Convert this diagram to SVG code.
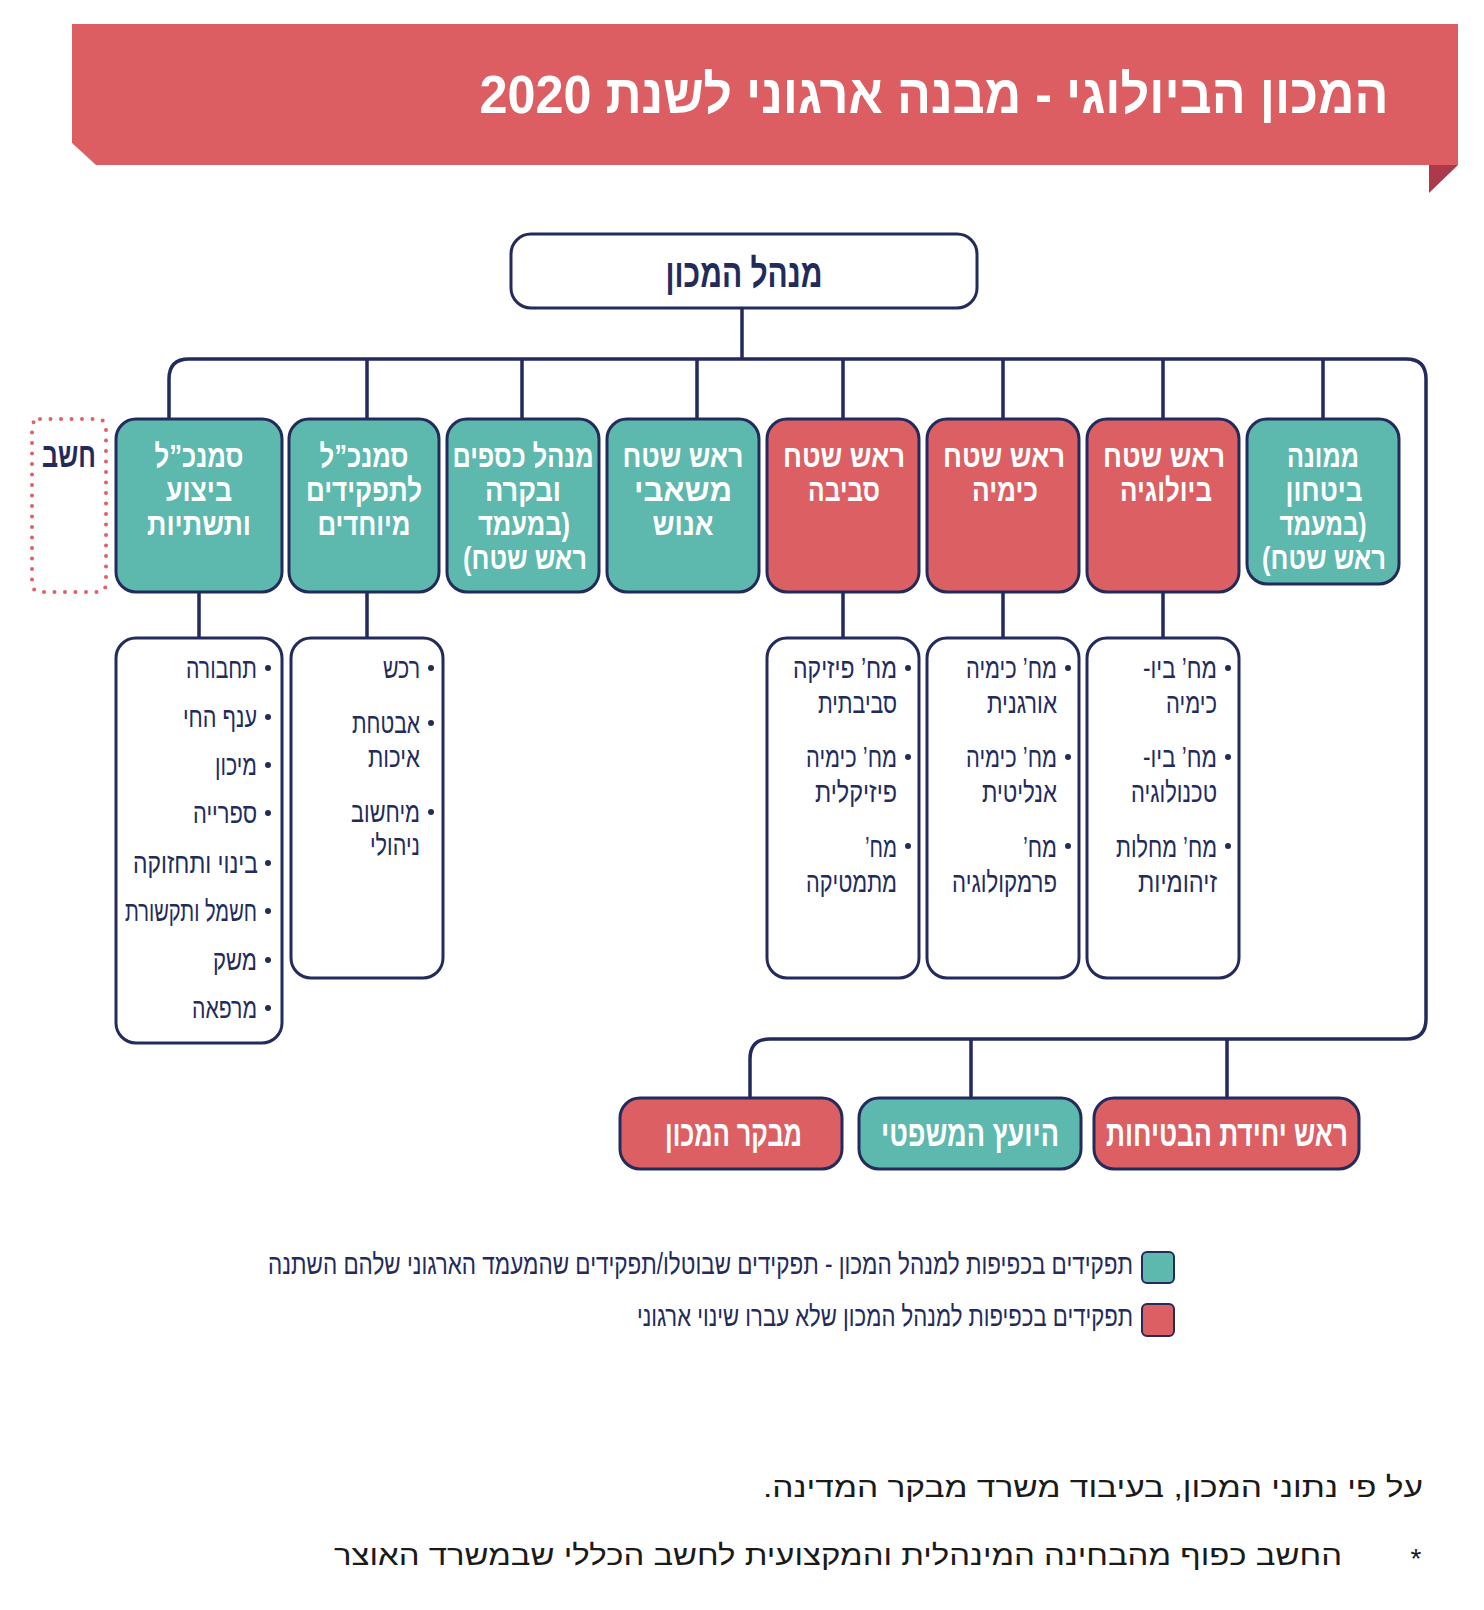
<svg xmlns="http://www.w3.org/2000/svg" width="1484" height="1610" viewBox="0 0 1484 1610">
<style>
.red{fill:#DC5F64;stroke:#232B5C;stroke-width:3}
.teal{fill:#5DB8AD;stroke:#232B5C;stroke-width:3}
.wbox{fill:#fff;stroke:#232B5C;stroke-width:3}
.conn{fill:none;stroke:#232B5C;stroke-width:3.5}
text{font-family:"Liberation Sans","DejaVu Sans",sans-serif;direction:rtl;text-anchor:middle}
.bt{font-weight:bold;font-size:32px;fill:#fff}
.bb{font-weight:bold;font-size:36px;fill:#fff}
.nt{font-weight:bold;fill:#232B5C}
.lt{font-size:29px;fill:#232B5C}
.gt{font-size:29px;fill:#232B5C}
.ft{font-size:28px;fill:#1a1a1a}
.bul{fill:#232B5C}
</style>
<rect width="1484" height="1610" fill="#fff"/>
<g id="title">
<polygon points="72,24 1458,24 1458,165 96,165 72,143" fill="#DC5E63"/>
<polygon points="1429,165 1458,165 1429,193" fill="#AD3A4A"/>
<text x="934" y="113" font-size="54" font-weight="bold" fill="#fff" textLength="909" lengthAdjust="spacingAndGlyphs">המכון הביולוגי - מבנה ארגוני לשנת 2020</text>
</g>
<g id="connectors">
<path class="conn" d="M169,419 V379 Q169,359 189,359 H1406 Q1426,359 1426,379 V1019 Q1426,1039 1406,1039 H770 Q750,1039 750,1059 V1098"/>
<path class="conn" d="M742,308 V359 M367,359 V419 M522,359 V419 M697,359 V419 M843,359 V419 M1003,359 V419 M1163,359 V419 M1323,359 V419"/>
<path class="conn" d="M199,592 V638 M367,592 V638 M843,592 V638 M1003,592 V638 M1163,592 V638"/>
<path class="conn" d="M971,1039 V1098 M1227,1039 V1098"/>
</g>
<g id="director">
<rect class="wbox" x="511" y="234" width="466" height="74" rx="20"/>
<text class="nt" x="744" y="287" font-size="40" textLength="157" lengthAdjust="spacingAndGlyphs">מנהל המכון</text>
</g>
<g id="accountant">
<rect x="32" y="419" width="74" height="173" rx="8" fill="none" stroke="#E06065" stroke-width="4" stroke-linecap="round" stroke-dasharray="0 10.5"/>
<text class="nt" x="69" y="467" font-size="34" textLength="54" lengthAdjust="spacingAndGlyphs">חשב</text>
</g>
<g id="box-execution">
<rect class="teal" x="116" y="419" width="166" height="173" rx="20"/>
<text class="bt" x="199" y="467" textLength="89" lengthAdjust="spacingAndGlyphs">סמנכ”ל</text>
<text class="bt" x="199" y="501" textLength="66" lengthAdjust="spacingAndGlyphs">ביצוע</text>
<text class="bt" x="199" y="535" textLength="104" lengthAdjust="spacingAndGlyphs">ותשתיות</text>
</g>
<g id="box-special">
<rect class="teal" x="289" y="419" width="150" height="173" rx="20"/>
<text class="bt" x="364" y="467" textLength="89" lengthAdjust="spacingAndGlyphs">סמנכ”ל</text>
<text class="bt" x="364" y="501" textLength="116" lengthAdjust="spacingAndGlyphs">לתפקידים</text>
<text class="bt" x="364" y="535" textLength="93" lengthAdjust="spacingAndGlyphs">מיוחדים</text>
</g>
<g id="box-finance">
<rect class="teal" x="447" y="419" width="152" height="173" rx="20"/>
<text class="bt" x="523" y="467" textLength="141" lengthAdjust="spacingAndGlyphs">מנהל כספים</text>
<text class="bt" x="523" y="501" textLength="76" lengthAdjust="spacingAndGlyphs">ובקרה</text>
<text class="bt" x="524" y="535" textLength="92" lengthAdjust="spacingAndGlyphs">(במעמד</text>
<text class="bt" x="525" y="569" textLength="124" lengthAdjust="spacingAndGlyphs">ראש שטח)</text>
</g>
<g id="box-hr">
<rect class="teal" x="607" y="419" width="152" height="173" rx="20"/>
<text class="bt" x="683" y="467" textLength="121" lengthAdjust="spacingAndGlyphs">ראש שטח</text>
<text class="bt" x="683" y="501" textLength="98" lengthAdjust="spacingAndGlyphs">משאבי</text>
<text class="bt" x="683" y="535" textLength="61" lengthAdjust="spacingAndGlyphs">אנוש</text>
</g>
<g id="box-environment">
<rect class="red" x="767" y="419" width="152" height="173" rx="20"/>
<text class="bt" x="844" y="467" textLength="122" lengthAdjust="spacingAndGlyphs">ראש שטח</text>
<text class="bt" x="844" y="501" textLength="72" lengthAdjust="spacingAndGlyphs">סביבה</text>
</g>
<g id="box-chemistry">
<rect class="red" x="927" y="419" width="152" height="173" rx="20"/>
<text class="bt" x="1004" y="467" textLength="122" lengthAdjust="spacingAndGlyphs">ראש שטח</text>
<text class="bt" x="1005" y="501" textLength="66" lengthAdjust="spacingAndGlyphs">כימיה</text>
</g>
<g id="box-biology">
<rect class="red" x="1087" y="419" width="152" height="173" rx="20"/>
<text class="bt" x="1164" y="467" textLength="122" lengthAdjust="spacingAndGlyphs">ראש שטח</text>
<text class="bt" x="1166" y="501" textLength="92" lengthAdjust="spacingAndGlyphs">ביולוגיה</text>
</g>
<g id="box-security">
<rect class="teal" x="1247" y="419" width="152" height="165" rx="20"/>
<text class="bt" x="1323" y="467" textLength="72" lengthAdjust="spacingAndGlyphs">ממונה</text>
<text class="bt" x="1324" y="501" textLength="77" lengthAdjust="spacingAndGlyphs">ביטחון</text>
<text class="bt" x="1323" y="535" textLength="87" lengthAdjust="spacingAndGlyphs">(במעמד</text>
<text class="bt" x="1324" y="569" textLength="124" lengthAdjust="spacingAndGlyphs">ראש שטח)</text>
</g>
<g id="list-execution">
<rect class="wbox" x="116" y="638" width="166" height="405" rx="20"/>
<circle class="bul" cx="268" cy="668" r="3"/><circle class="bul" cx="268" cy="717" r="3"/><circle class="bul" cx="268" cy="765" r="3"/><circle class="bul" cx="268" cy="813" r="3"/><circle class="bul" cx="268" cy="863" r="3"/><circle class="bul" cx="268" cy="911" r="3"/><circle class="bul" cx="268" cy="960" r="3"/><circle class="bul" cx="268" cy="1008" r="3"/>
<text class="lt" x="221.5" y="678" textLength="71" lengthAdjust="spacingAndGlyphs">תחבורה</text>
<text class="lt" x="220" y="727" textLength="74" lengthAdjust="spacingAndGlyphs">ענף החי</text>
<text class="lt" x="236" y="775" textLength="42" lengthAdjust="spacingAndGlyphs">מיכון</text>
<text class="lt" x="225" y="823" textLength="64" lengthAdjust="spacingAndGlyphs">ספרייה</text>
<text class="lt" x="195.5" y="873" textLength="125" lengthAdjust="spacingAndGlyphs">בינוי ותחזוקה</text>
<text class="lt" x="191" y="921" textLength="132" lengthAdjust="spacingAndGlyphs">חשמל ותקשורת</text>
<text class="lt" x="235" y="970" textLength="44" lengthAdjust="spacingAndGlyphs">משק</text>
<text class="lt" x="224.5" y="1018" textLength="65" lengthAdjust="spacingAndGlyphs">מרפאה</text>
</g>
<g id="list-special">
<rect class="wbox" x="291" y="638" width="152" height="340" rx="20"/>
<circle class="bul" cx="431" cy="668" r="3"/><circle class="bul" cx="431" cy="723" r="3"/><circle class="bul" cx="431" cy="812" r="3"/>
<text class="lt" x="401.5" y="678" textLength="37" lengthAdjust="spacingAndGlyphs">רכש</text>
<text class="lt" x="386" y="733" textLength="68" lengthAdjust="spacingAndGlyphs">אבטחת</text>
<text class="lt" x="394" y="767" textLength="52" lengthAdjust="spacingAndGlyphs">איכות</text>
<text class="lt" x="385.5" y="822" textLength="69" lengthAdjust="spacingAndGlyphs">מיחשוב</text>
<text class="lt" x="395" y="855" textLength="50" lengthAdjust="spacingAndGlyphs">ניהולי</text>
</g>
<g id="list-environment">
<rect class="wbox" x="767" y="638" width="152" height="340" rx="20"/>
<circle class="bul" cx="908" cy="668" r="3"/><circle class="bul" cx="908" cy="757" r="3"/><circle class="bul" cx="908" cy="846" r="3"/>
<text class="lt" x="845" y="678" textLength="104" lengthAdjust="spacingAndGlyphs">מח’ פיזיקה</text>
<text class="lt" x="857.5" y="713" textLength="79" lengthAdjust="spacingAndGlyphs">סביבתית</text>
<text class="lt" x="851.5" y="767" textLength="91" lengthAdjust="spacingAndGlyphs">מח’ כימיה</text>
<text class="lt" x="856" y="802" textLength="82" lengthAdjust="spacingAndGlyphs">פיזיקלית</text>
<text class="lt" x="881" y="857" textLength="32" lengthAdjust="spacingAndGlyphs">מח’</text>
<text class="lt" x="851.5" y="892" textLength="91" lengthAdjust="spacingAndGlyphs">מתמטיקה</text>
</g>
<g id="list-chemistry">
<rect class="wbox" x="927" y="638" width="152" height="340" rx="20"/>
<circle class="bul" cx="1068" cy="668" r="3"/><circle class="bul" cx="1068" cy="757" r="3"/><circle class="bul" cx="1068" cy="846" r="3"/>
<text class="lt" x="1011.5" y="678" textLength="91" lengthAdjust="spacingAndGlyphs">מח’ כימיה</text>
<text class="lt" x="1022" y="713" textLength="70" lengthAdjust="spacingAndGlyphs">אורגנית</text>
<text class="lt" x="1011.5" y="767" textLength="91" lengthAdjust="spacingAndGlyphs">מח’ כימיה</text>
<text class="lt" x="1019.5" y="802" textLength="75" lengthAdjust="spacingAndGlyphs">אנליטית</text>
<text class="lt" x="1040" y="857" textLength="34" lengthAdjust="spacingAndGlyphs">מח’</text>
<text class="lt" x="1004.5" y="892" textLength="105" lengthAdjust="spacingAndGlyphs">פרמקולוגיה</text>
</g>
<g id="list-biology">
<rect class="wbox" x="1087" y="638" width="152" height="340" rx="20"/>
<circle class="bul" cx="1228" cy="668" r="3"/><circle class="bul" cx="1228" cy="757" r="3"/><circle class="bul" cx="1228" cy="846" r="3"/>
<text class="lt" x="1180" y="678" textLength="74" lengthAdjust="spacingAndGlyphs">מח’ ביו-</text>
<text class="lt" x="1191.5" y="713" textLength="51" lengthAdjust="spacingAndGlyphs">כימיה</text>
<text class="lt" x="1180" y="767" textLength="74" lengthAdjust="spacingAndGlyphs">מח’ ביו-</text>
<text class="lt" x="1174" y="802" textLength="86" lengthAdjust="spacingAndGlyphs">טכנולוגיה</text>
<text class="lt" x="1166.5" y="857" textLength="101" lengthAdjust="spacingAndGlyphs">מח’ מחלות</text>
<text class="lt" x="1177.5" y="892" textLength="79" lengthAdjust="spacingAndGlyphs">זיהומיות</text>
</g>
<g id="box-comptroller">
<rect class="red" x="620" y="1098" width="222" height="71" rx="20"/>
<text class="bb" x="733.5" y="1146" textLength="137" lengthAdjust="spacingAndGlyphs">מבקר המכון</text>
</g>
<g id="box-legal">
<rect class="teal" x="859" y="1098" width="222" height="71" rx="20"/>
<text class="bb" x="970" y="1146" textLength="178" lengthAdjust="spacingAndGlyphs">היועץ המשפטי</text>
</g>
<g id="box-safety">
<rect class="red" x="1094" y="1098" width="265" height="71" rx="20"/>
<text class="bb" x="1227" y="1146" textLength="242" lengthAdjust="spacingAndGlyphs">ראש יחידת הבטיחות</text>
</g>
<g id="legend">
<rect x="1142" y="1252" width="32" height="31" rx="5" fill="#5DB8AD" stroke="#232B5C" stroke-width="2"/>
<rect x="1142" y="1304" width="32" height="32" rx="5" fill="#DC5F64" stroke="#232B5C" stroke-width="2"/>
<text class="gt" x="700.5" y="1274" textLength="865" lengthAdjust="spacingAndGlyphs">תפקידים בכפיפות למנהל המכון - תפקידים שבוטלו/תפקידים שהמעמד הארגוני שלהם השתנה</text>
<text class="gt" x="885" y="1326" textLength="496" lengthAdjust="spacingAndGlyphs">תפקידים בכפיפות למנהל המכון שלא עברו שינוי ארגוני</text>
</g>
<g id="notes">
<text class="ft" x="1093" y="1497" textLength="660" lengthAdjust="spacingAndGlyphs">על פי נתוני המכון, בעיבוד משרד מבקר המדינה.</text>
<text class="ft" x="1416" y="1568" font-size="34">*</text>
<text class="ft" x="838" y="1565" textLength="1008" lengthAdjust="spacingAndGlyphs">החשב כפוף מהבחינה המינהלית והמקצועית לחשב הכללי שבמשרד האוצר</text>
</g>
</svg>
